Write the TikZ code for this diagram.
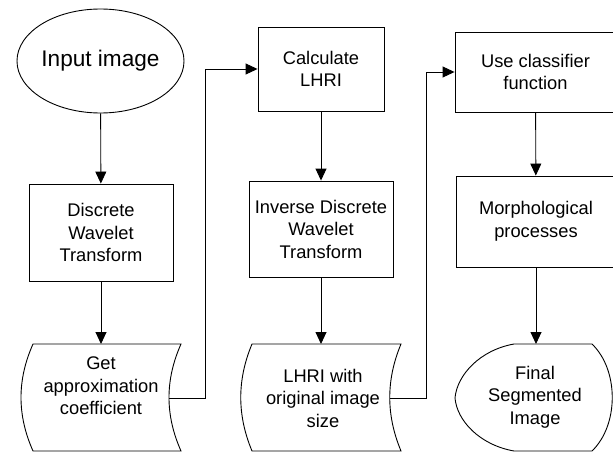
\documentclass[tikz,border=0pt]{standalone}
\usepackage{fontspec}
\setmainfont{Liberation Sans}
\usetikzlibrary{arrows.meta,shapes.geometric}
\begin{document}
\begin{tikzpicture}[x=1pt,y=-1pt,
  line width=0.9pt,
  proc/.style={draw, rectangle, align=center, inner sep=0pt, font=\fontsize{18.3}{22.5}\selectfont},
  txt/.style={align=center, inner sep=0pt, font=\fontsize{18.3}{22.5}\selectfont},
  arr/.style={-{Triangle[length=12pt,width=11pt]}},
  ]
\clip (0,0) rectangle (613,452);
% column 1
\node[ellipse, draw, minimum width=167pt, minimum height=104pt, inner sep=0pt,
      font=\fontsize{22.6}{26}\selectfont] (in) at (100.5,61) {Input image};
\node[proc, minimum width=144pt, minimum height=97pt] (dwt) at (101,232.5) {Discrete\\Wavelet\\Transform};
\draw (33,344) -- (181,344) .. controls (165,380) and (165,415) .. (181,451)
      -- (33,451) .. controls (17,415) and (17,380) .. (33,344) -- cycle;
\node[txt] (gac) at (101,386) {Get\\approximation\\coefficient};
\coordinate (gactop) at (101,344);
\coordinate (gacout) at (169,398);
% column 2
\node[proc, minimum width=126pt, minimum height=84pt] (calc) at (321,69) {Calculate\\LHRI};
\node[proc, minimum width=144pt, minimum height=96pt] (idwt) at (321,229) {Inverse Discrete\\Wavelet\\Transform};
\draw (252,344) -- (401,344) .. controls (386,380) and (386,415) .. (401,451)
      -- (252,451) .. controls (237,415) and (237,380) .. (252,344) -- cycle;
\node[txt] (lhri) at (323,398) {LHRI with\\original image\\size};
\coordinate (lhritop) at (321,344);
\coordinate (lhriout) at (390,398);
% column 3
\node[proc, minimum width=161pt, minimum height=80pt] (use) at (535.5,72) {Use classifier\\function};
\node[proc, minimum width=160pt, minimum height=91pt] (morph) at (536,221.5) {Morphological\\processes};
\draw (455,398) .. controls (457,375) and (480,350) .. (514,344) -- (592,344)
      .. controls (619,370) and (619,425) .. (592,451) -- (514,451)
      .. controls (480,445) and (457,421) .. (455,398) -- cycle;
\node[txt] (fin) at (535,397) {Final\\Segmented\\Image};
\coordinate (fintop) at (536,344);
% connectors
\draw[arr] (in) -- (dwt);
\draw[arr] (dwt) -- (gactop);
\draw[arr] (gacout) -- ++(36,0) |- (calc.west);
\draw[arr] (calc) -- (idwt);
\draw[arr] (idwt) -- (lhritop);
\draw[arr] (lhriout) -- ++(36,0) |- (use.west);
\draw[arr] (use) -- (morph);
\draw[arr] (morph.south -| fintop) -- (fintop);
\end{tikzpicture}
\end{document}
